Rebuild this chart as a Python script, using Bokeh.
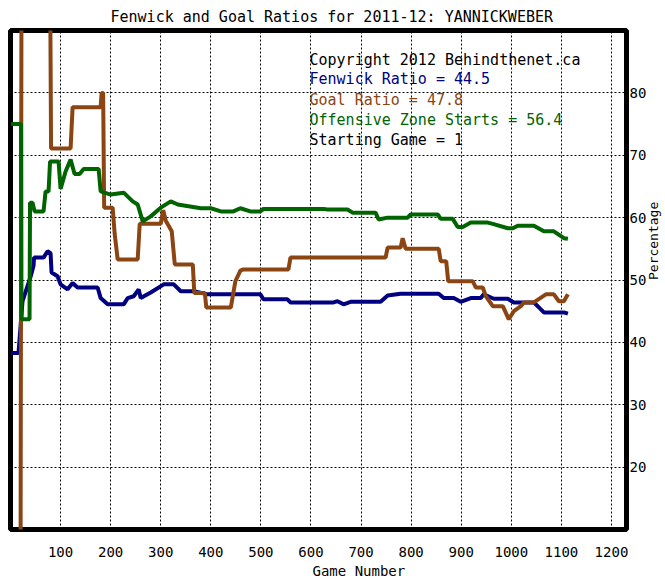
import math
from bokeh.plotting import figure
from bokeh.models import FixedTicker, Range1d, Label, Title
from bokeh.embed import file_html
from bokeh.resources import INLINE

# ---- data ----
fenwick_x = [1, 16, 24, 40, 46, 47, 66, 74, 80, 82, 94, 100, 114, 124, 134, 174, 180, 194, 226, 234,
             246, 256, 260, 280, 306, 326, 340, 366, 394, 499, 505, 553, 559, 645, 653, 665, 679, 739,
             753, 779, 855, 865, 885, 899, 919, 939, 945, 965, 993, 1005, 1045, 1055, 1065, 1105, 1113]
fenwick_y = [38.3, 38.3, 46.6, 50.5, 52.3, 53.6, 53.6, 54.6, 54.3, 51.2, 50.6, 49.3, 48.5, 49.5, 48.8,
             48.8, 47.1, 46.1, 46.1, 47.1, 47.4, 48.5, 47.1, 48.0, 49.3, 49.3, 48.2, 48.2, 47.7, 47.7,
             46.9, 46.9, 46.4, 46.4, 46.6, 46.1, 46.5, 46.5, 47.5, 47.8, 47.8, 47.1, 47.1, 46.5, 47.1,
             47.1, 47.7, 47.0, 47.0, 46.4, 46.4, 45.6, 44.8, 44.8, 44.6]

goal_x = [1, 20, 22, 79, 81, 120, 124, 180, 182, 185, 187, 204, 208, 214, 254, 258, 300, 305, 310, 322,
          328, 364, 367, 388, 391, 440, 449, 459, 465, 555, 559, 749, 753, 779, 783, 789, 855, 859, 870,
          874, 923, 929, 943, 949, 963, 983, 995, 1005, 1019, 1025, 1045, 1069, 1085, 1095, 1105, 1113]
goal_y = [0, 0, 100, 100, 71.1, 71.1, 77.7, 77.7, 80.0, 80.0, 61.6, 61.6, 57.4, 53.3, 53.3, 59.0, 59.0,
          61.2, 59.5, 57.8, 52.5, 52.5, 47.9, 47.9, 45.6, 45.6, 49.8, 51.5, 51.7, 51.7, 53.6, 53.6, 55.2,
          55.2, 56.7, 55.0, 55.0, 53.0, 53.0, 49.8, 49.8, 48.8, 48.8, 47.4, 45.8, 45.8, 43.7, 45.0, 45.8,
          46.4, 46.4, 47.7, 47.7, 46.6, 46.6, 47.7]

ozs_x = [1, 21, 22, 38, 39, 44, 48, 66, 70, 76, 79, 96, 100, 110, 120, 128, 138, 146, 176, 180, 200,
         226, 244, 254, 264, 280, 300, 320, 334, 380, 400, 420, 445, 459, 479, 499, 505, 625, 633, 673,
         683, 729, 735, 753, 793, 799, 853, 859, 883, 893, 903, 919, 953, 963, 993, 1003, 1013, 1045,
         1065, 1085, 1105, 1113]
ozs_y = [75.0, 75.0, 43.7, 43.7, 62.4, 62.4, 61.0, 61.0, 64.2, 64.2, 69.0, 69.0, 64.6, 67.4, 69.3, 67.0,
         67.0, 67.8, 67.8, 64.2, 63.7, 64.0, 62.6, 62.1, 59.4, 60.2, 61.6, 62.6, 62.1, 61.5, 61.5, 61.0,
         61.0, 61.5, 61.0, 61.0, 61.4, 61.4, 61.3, 61.3, 60.8, 60.8, 59.7, 60.0, 60.0, 60.5, 60.5, 59.8,
         59.8, 58.5, 58.5, 59.2, 59.2, 59.0, 58.3, 58.3, 58.7, 58.7, 57.8, 57.8, 56.7, 56.6]

x_ticks = [100, 200, 300, 400, 500, 600, 700, 800, 900, 1000, 1100, 1200]
y_ticks = [20, 30, 40, 50, 60, 70, 80]

title_text = "Fenwick and Goal Ratios for 2011-12: YANNICKWEBER"
x_label = "Game Number"
y_label = "Percentage"
info_lines = ["Copyright 2012 Behindthenet.ca", "Fenwick Ratio = 44.5", "Goal Ratio = 47.8",
              "Offensive Zone Starts = 56.4", "Starting Game = 1"]

NAVY = "#000080"
BROWN = "#8b4513"
GREEN = "#006400"
FONT = "DejaVu Sans Mono"

p = figure(frame_width=616, frame_height=499, x_range=Range1d(0, 1230), y_range=Range1d(10, 90),
           y_axis_location="right", output_backend="svg", toolbar_location=None,
           min_border_left=10, min_border_top=29, min_border_right=39, min_border_bottom=52)

p.title.text = title_text
p.title.align = "left"
p.title.offset = 100
p.title.standoff = 10
p.title.text_font = FONT
p.title.text_font_size = "15px"
p.title.text_font_style = "normal"
p.title.text_color = "black"

p.outline_line_color = "black"
p.outline_line_width = 5
p.outline_line_alpha = 1

p.xaxis.ticker = FixedTicker(ticks=x_ticks)
p.yaxis.ticker = FixedTicker(ticks=y_ticks)
for ax in (p.xaxis, p.yaxis):
    ax.axis_line_color = None
    ax.major_tick_line_color = None
    ax.minor_tick_line_color = None
    ax.major_tick_out = 0
    ax.major_tick_in = 0
    ax.major_label_text_font = FONT
    ax.major_label_text_font_size = "14px"
    ax.major_label_text_color = "black"
p.xaxis.major_label_standoff = 17
p.yaxis.major_label_standoff = 3

p.yaxis.axis_label = y_label
p.yaxis.axis_label_text_font = FONT
p.yaxis.axis_label_text_font_size = "13px"
p.yaxis.axis_label_text_font_style = "normal"
p.yaxis.axis_label_text_color = "black"
p.yaxis.axis_label_standoff = 4
try:
    p.yaxis.axis_label_orientation = math.pi / 2
except Exception:
    pass

xt = Title(text=x_label, align="left", offset=302, standoff=3, text_font=FONT,
           text_font_size="14px", text_font_style="normal", text_color="black")
p.add_layout(xt, "below")

for g in (p.xgrid, p.ygrid):
    g.grid_line_color = "black"
    g.grid_line_width = 1
    g.grid_line_dash = "2 2"
    g.grid_line_alpha = 1

p.line(fenwick_x, fenwick_y, line_color=NAVY, line_width=4)
p.line(goal_x, goal_y, line_color=BROWN, line_width=4)
p.line(ozs_x, ozs_y, line_color=GREEN, line_width=4)

colors = ["black", NAVY, BROWN, GREEN, "black"]
ys = [85.35, 82.15, 78.83, 75.62, 72.4]
for txt, c, yy in zip(info_lines, colors, ys):
    p.add_layout(Label(x=597, y=yy, text=txt, text_color=c, text_font=FONT,
                       text_font_size="15px", text_baseline="middle", text_align="left"))

open("out.html", "w").write(file_html(p, INLINE))
